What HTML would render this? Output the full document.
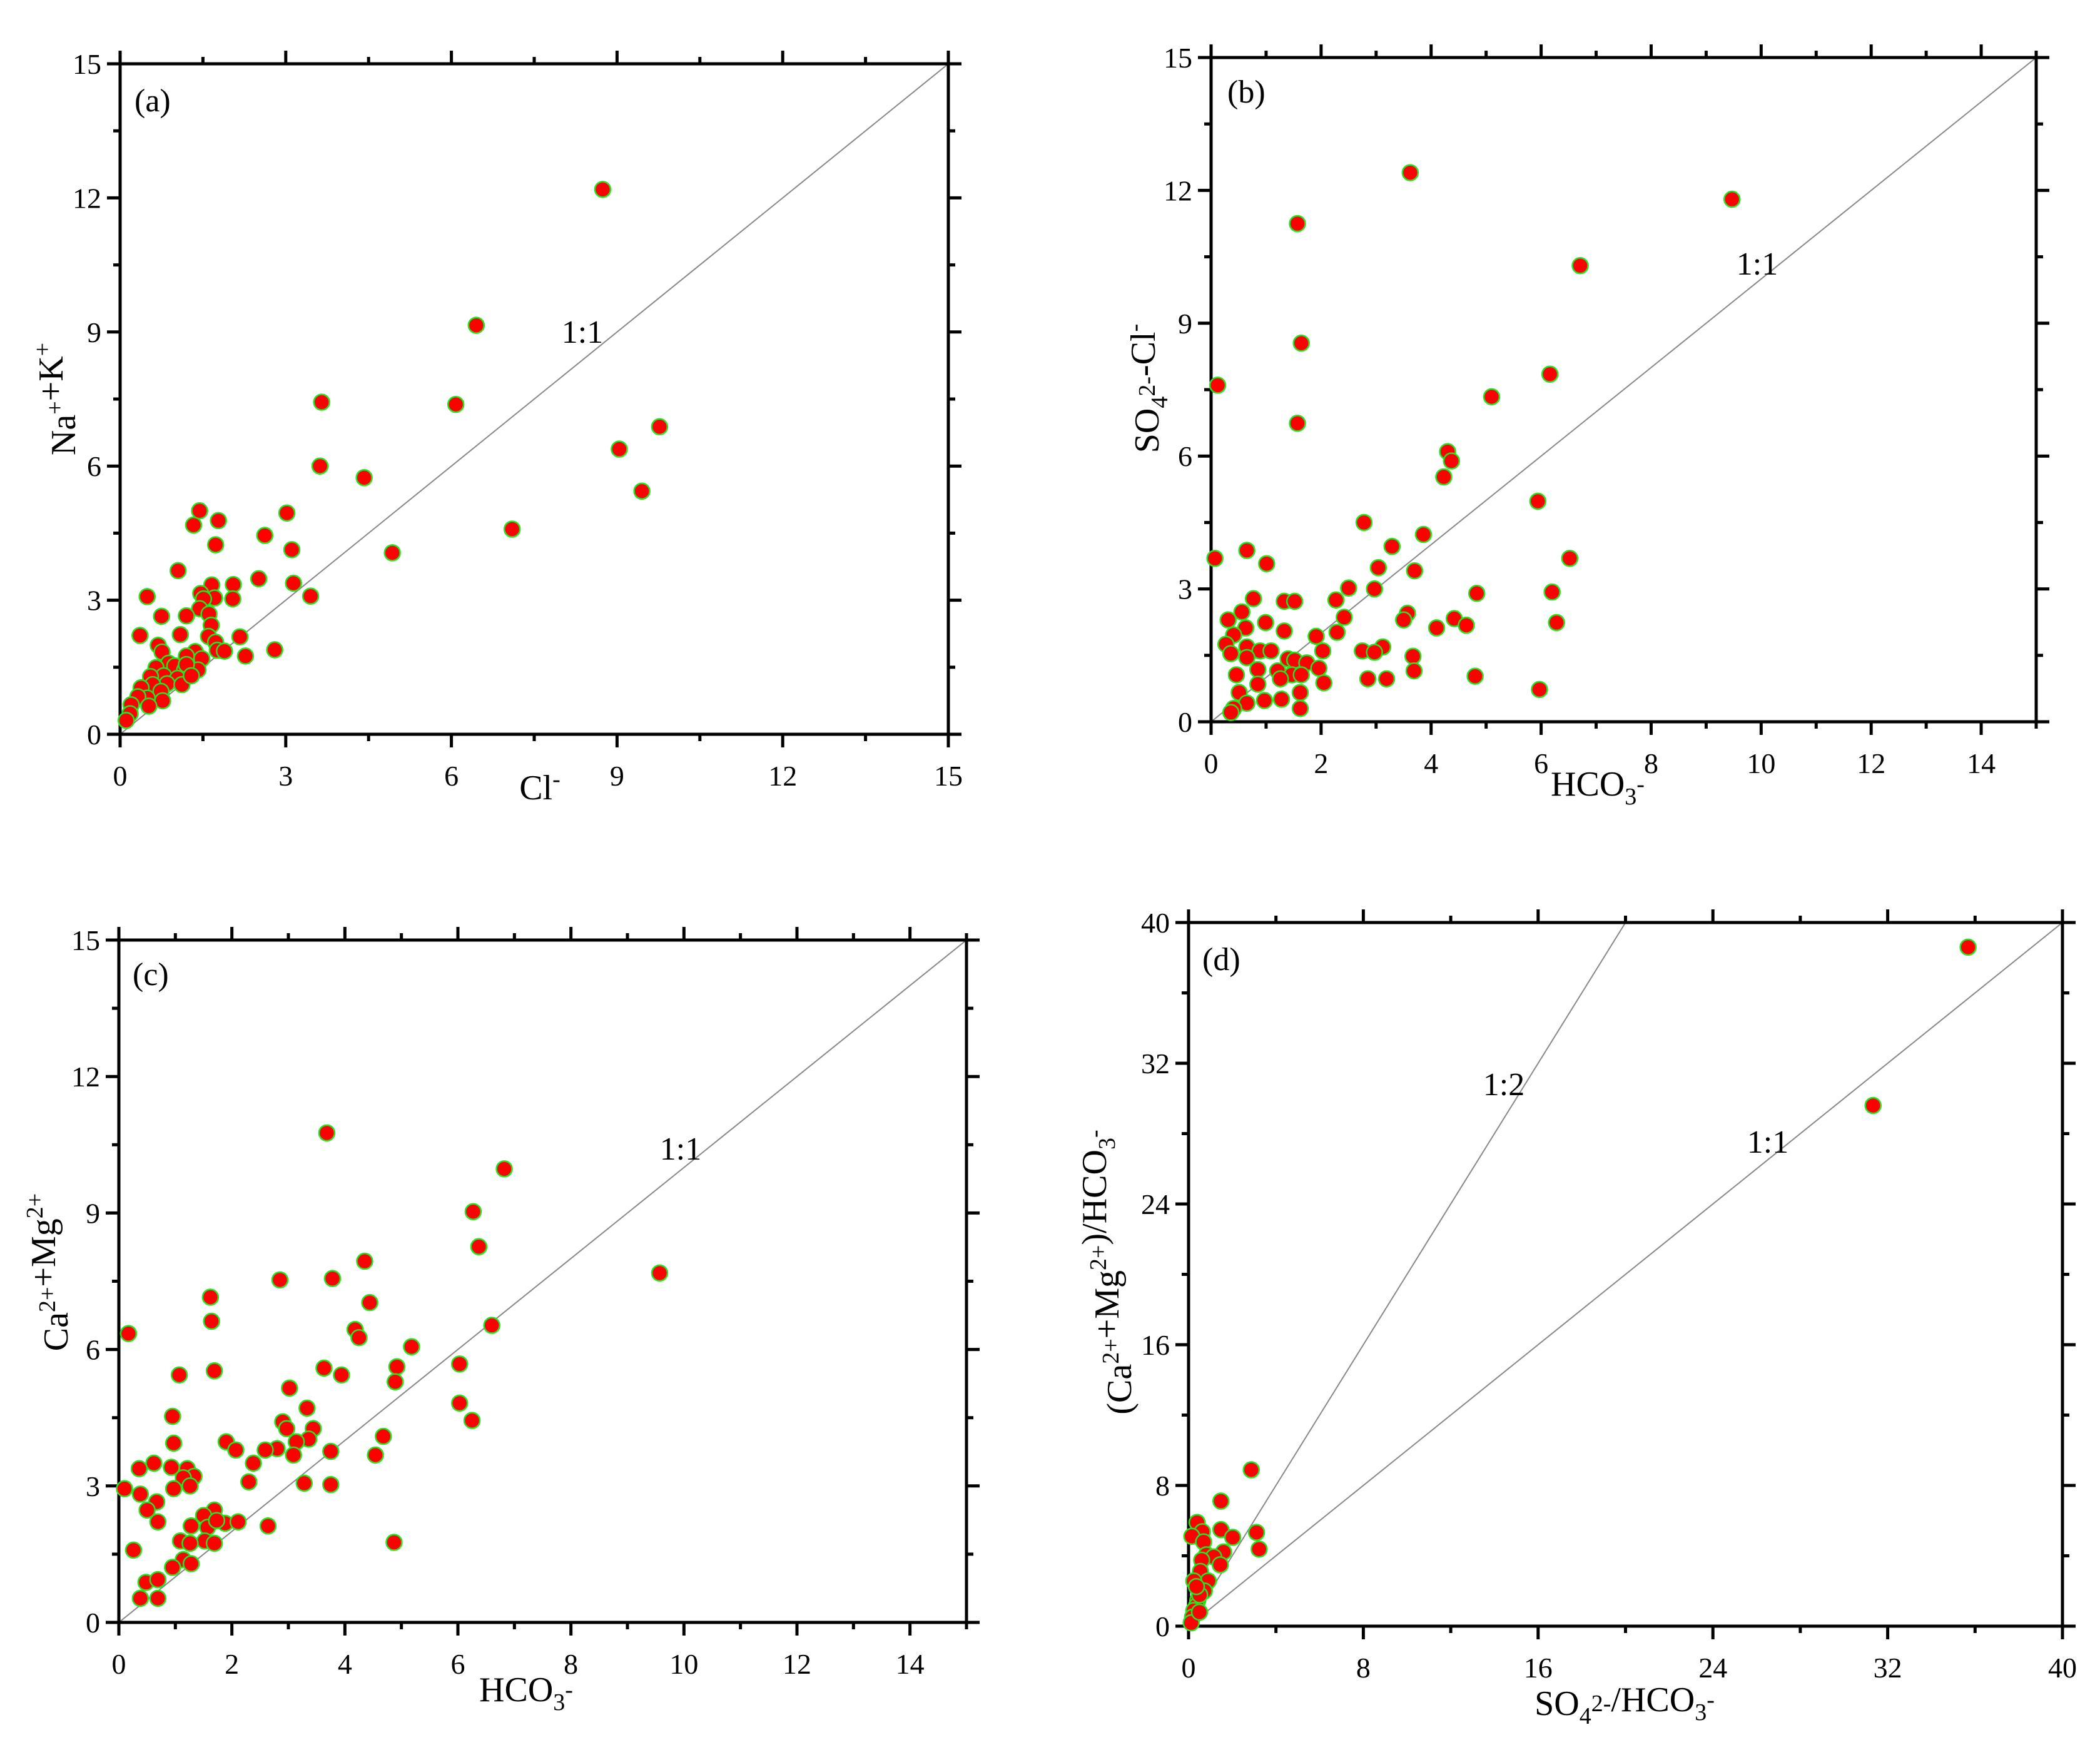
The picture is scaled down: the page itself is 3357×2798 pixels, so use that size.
<!DOCTYPE html>
<html><head><meta charset="utf-8">
<style>
html,body{margin:0;padding:0;background:#fff;}
svg{display:block;font-family:"Liberation Serif","Times New Roman",serif;}
svg text{font-family:"Liberation Serif","Times New Roman",serif;}
</style></head>
<body>
<svg id="chart" width="3357" height="2798" viewBox="0 0 3357 2798" xmlns="http://www.w3.org/2000/svg"></svg>
<script>
const aX=[8.74,6.45,3.65,6.08,9.77,9.04,3.62,4.42,9.45,1.44,3.02,1.78,1.33,7.10,1.73,2.62,3.11,4.93,1.05,2.51,3.14,2.05,1.66,1.46,0.49,3.45,2.04,1.71,1.51,1.44,1.61,0.75,1.20,1.65,0.36,1.09,2.17,1.60,1.73,0.69,0.76,1.76,1.89,2.27,2.80,1.36,1.20,1.48,0.88,0.65,0.99,1.41,1.17,0.79,0.55,1.04,0.85,0.59,0.38,0.74,1.12,0.49,0.32,0.77,0.52,0.20,0.18,0.11,1.2,1.29];
const aY=[12.19,9.15,7.43,7.38,6.88,6.38,6.0,5.74,5.44,5.0,4.95,4.78,4.68,4.59,4.24,4.45,4.13,4.06,3.66,3.48,3.38,3.35,3.34,3.15,3.08,3.09,3.03,3.05,3.03,2.81,2.69,2.64,2.65,2.44,2.21,2.23,2.18,2.19,2.06,1.99,1.84,1.88,1.86,1.75,1.89,1.85,1.75,1.69,1.59,1.49,1.53,1.44,1.44,1.31,1.29,1.25,1.13,1.11,1.04,0.96,1.11,0.81,0.84,0.75,0.63,0.66,0.46,0.31,1.56,1.31];
const bX=[3.62,1.57,9.47,6.71,1.64,0.12,6.16,5.1,1.57,4.3,4.37,4.23,5.94,2.78,3.86,3.29,0.65,0.07,6.52,1.01,3.04,3.7,2.5,2.97,6.2,4.83,0.77,1.33,2.27,1.52,0.56,3.57,0.31,2.42,3.5,0.99,6.28,4.42,4.64,4.1,0.63,1.33,2.29,0.41,1.91,0.27,0.65,3.12,2.75,2.97,0.89,1.09,2.03,0.36,0.65,3.67,1.4,1.52,1.74,1.96,0.85,1.21,3.69,0.46,1.47,1.64,1.26,2.85,3.19,4.8,2.05,0.85,0.51,1.62,5.97,0.97,0.65,1.28,0.41,1.62,0.36];
const bY=[12.4,11.25,11.8,10.3,8.55,7.6,7.85,7.34,6.74,6.1,5.89,5.53,4.98,4.5,4.23,3.96,3.87,3.69,3.69,3.57,3.48,3.41,3.02,3.0,2.93,2.9,2.78,2.72,2.75,2.72,2.48,2.45,2.3,2.36,2.3,2.24,2.24,2.33,2.18,2.12,2.12,2.05,2.02,1.96,1.93,1.75,1.69,1.69,1.6,1.57,1.6,1.6,1.6,1.54,1.45,1.48,1.42,1.39,1.33,1.21,1.18,1.15,1.15,1.06,1.06,1.06,0.97,0.97,0.97,1.03,0.88,0.85,0.66,0.66,0.73,0.48,0.42,0.51,0.3,0.3,0.21];
const cX=[3.68,6.82,6.27,6.37,4.35,2.85,3.78,9.57,1.62,4.44,1.64,6.6,0.17,4.18,4.25,5.18,4.92,6.03,1.69,3.63,3.94,1.07,4.89,3.02,6.03,3.33,0.95,6.25,2.9,3.44,4.68,2.97,3.36,3.14,0.97,1.9,2.07,2.8,2.59,3.75,3.09,4.54,2.38,0.62,0.36,0.93,1.21,1.33,1.14,0.38,2.3,3.28,3.75,0.1,0.97,1.26,0.67,1.69,1.5,0.5,0.69,1.28,1.88,2.11,2.64,1.57,1.73,1.09,1.52,1.26,1.69,4.87,0.26,1.14,0.95,1.28,0.48,0.69,0.38,0.69];
const cY=[10.76,9.97,9.03,8.26,7.94,7.53,7.56,7.68,7.15,7.03,6.62,6.53,6.35,6.44,6.26,6.06,5.62,5.68,5.53,5.59,5.44,5.44,5.29,5.15,4.82,4.71,4.53,4.44,4.41,4.26,4.09,4.26,4.03,3.97,3.94,3.97,3.79,3.82,3.79,3.76,3.68,3.68,3.5,3.5,3.38,3.41,3.38,3.21,3.18,2.82,3.09,3.06,3.03,2.94,2.94,3.0,2.65,2.47,2.35,2.47,2.21,2.12,2.18,2.21,2.12,2.09,2.24,1.79,1.79,1.74,1.74,1.76,1.59,1.38,1.21,1.29,0.88,0.94,0.53,0.53];
const dX=[35.68,31.33,2.87,1.48,0.39,1.48,3.11,0.63,2.02,0.15,0.69,3.23,1.6,0.82,1.15,0.6,1.45,0.54,0.9,0.24,0.72,0.42,0.36,0.24,0.18,0.12,0.51,0.36,0.5];
const dY=[38.6,29.6,8.89,7.11,5.9,5.49,5.33,5.37,5.05,5.11,4.79,4.38,4.22,4.06,3.94,3.75,3.49,3.11,2.57,2.57,2.0,1.46,1.14,0.89,0.51,0.19,1.78,2.25,0.8];
const ticksA=[0,3,6,9,12,15];
const ticksBX=[0,2,4,6,8,10,12,14];
const ticksD=[0,8,16,24,32,40];

const NS="http://www.w3.org/2000/svg";
const svg=document.getElementById('chart');
function mk(tag,attrs,parent,text){const e=document.createElementNS(NS,tag);for(const k in attrs)e.setAttribute(k,attrs[k]);if(text!==undefined)e.textContent=text;(parent||svg).appendChild(e);return e;}

function panel(p){
  const g=mk('g',{});
  
  
  const sx=v=>p.x0+(v-p.min)/(p.max-p.min)*(p.x1-p.x0);
  const sy=v=>p.y0-(v-p.min)/(p.max-p.min)*(p.y0-p.y1);
  p.refs.forEach(r=>{
    const l=mk('line',{x1:sx(0),y1:sy(0),x2:sx(r.x),y2:sy(r.y),stroke:'#888','stroke-width':2},g);
    
    
  });
  const fr=mk('rect',{x:p.x0,y:p.y1,width:p.x1-p.x0,height:p.y0-p.y1,fill:'none',stroke:'#000','stroke-width':5},g);
  
  
  const tg=mk('g',{stroke:'#000','stroke-width':5},g);
  
  
  for(let v=p.min;v<=p.max+1e-9;v+=p.xminor){
    const maj=p.xticks.some(t=>Math.abs(t-v)<1e-6);const L=maj?21:11;const X=sx(v);
    mk('line',{x1:X,y1:p.y0,x2:X,y2:p.y0+L},tg);mk('line',{x1:X,y1:p.y1,x2:X,y2:p.y1-L},tg);
  }
  for(let v=p.min;v<=p.max+1e-9;v+=p.yminor){
    const maj=p.yticks.some(t=>Math.abs(t-v)<1e-6);const L=maj?21:11;const Y=sy(v);
    mk('line',{x1:p.x0,y1:Y,x2:p.x0-L,y2:Y},tg);mk('line',{x1:p.x1,y1:Y,x2:p.x1+L,y2:Y},tg);
  }
  p.xticks.forEach(t=>{const e=mk('text',{x:sx(t),y:p.y0+82,'font-size':46,'text-anchor':'middle'},g,String(t));
    });
  p.yticks.forEach(t=>{const e=mk('text',{x:p.x0-30,y:sy(t)+16,'font-size':46,'text-anchor':'end'},g,String(t));
    });
  const pg=mk('g',{},g);
  
  
  p.xs.forEach((xv,i)=>{const c=mk('circle',{cx:sx(xv),cy:sy(p.ys[i]),r:12.5,fill:'#ff0000',stroke:'#22e61e','stroke-width':2.5},pg);
    });
  const pl=mk('text',{x:p.lx,y:p.ly,'font-size':52},g,p.label);
  
  p.refs.forEach(r=>{const t=mk('text',{x:r.tx,y:r.ty,'font-size':52,'text-anchor':'middle'},g,r.t);
    });
  const xt=mk('text',{x:p.xtx,y:p.xty,'font-size':56,'text-anchor':'middle'},g);
  xt.innerHTML=p.xt;
  const yt=mk('text',{x:0,y:0,'font-size':56,'text-anchor':'middle',transform:`translate(${p.ytx},${p.yty}) rotate(-90)`},g);
  yt.innerHTML=p.yt;
}
const sup=(s)=>`<tspan dy="-20" font-size="38">${s}</tspan><tspan dy="20"></tspan>`;
const sub=(s)=>`<tspan dy="14" font-size="38">${s}</tspan><tspan dy="-14"></tspan>`;
panel({name:'panel-a',x0:192,x1:1516,y0:1174,y1:102,min:0,max:15,xticks:ticksA,yticks:ticksA,xminor:1.5,yminor:1.5,xs:aX,ys:aY,
  refs:[{x:15,y:15,name:'one-to-one-line',t:'1:1',tx:931,ty:548}],label:'(a)',lx:215,ly:178,
  xt:'Cl'+sup('-'),xtx:863,xty:1278,yt:'Na'+sup('+')+'+K'+sup('+'),ytx:120,yty:638});
panel({name:'panel-b',x0:1936,x1:3255,y0:1154,y1:92,min:0,max:15,xticks:ticksBX,yticks:ticksA,xminor:1,yminor:1.5,xs:bX,ys:bY,
  refs:[{x:15,y:15,name:'one-to-one-line',t:'1:1',tx:2809,ty:439}],label:'(b)',lx:1962,ly:164,
  xt:'HCO'+sub('3')+sup('-'),xtx:2554,xty:1272,yt:'SO'+sub('4')+sup('2-')+'-Cl'+sup('-'),ytx:1852,yty:621});
panel({name:'panel-c',x0:190,x1:1545,y0:2594,y1:1503,min:0,max:15,xticks:ticksBX,yticks:ticksA,xminor:1,yminor:1.5,xs:cX,ys:cY,
  refs:[{x:15,y:15,name:'one-to-one-line',t:'1:1',tx:1088,ty:1854}],label:'(c)',lx:212,ly:1575,
  xt:'HCO'+sub('3')+sup('-'),xtx:841,xty:2720,yt:'Ca'+sup('2+')+'+Mg'+sup('2+'),ytx:108,yty:2034});
panel({name:'panel-d',x0:1900,x1:3297,y0:2600,y1:1475,min:0,max:40,xticks:ticksD,yticks:ticksD,xminor:4,yminor:4,xs:dX,ys:dY,
  refs:[{x:20,y:40,name:'one-to-two-line',t:'1:2',tx:2404,ty:1751},{x:40,y:40,name:'one-to-one-line',t:'1:1',tx:2826,ty:1843}],label:'(d)',lx:1922,ly:1551,
  xt:'SO'+sub('4')+sup('2-')+'/HCO'+sub('3')+sup('-'),xtx:2597,xty:2742,yt:'(Ca'+sup('2+')+'+Mg'+sup('2+')+')/HCO'+sub('3')+sup('-'),ytx:1808,yty:2034});
</script>
</body></html>
